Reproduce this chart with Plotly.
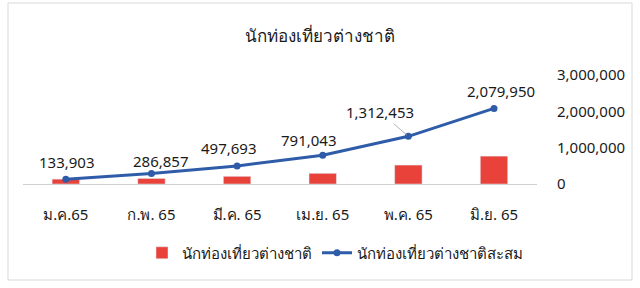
import plotly.graph_objects as go

months = ["ม.ค.65", "ก.พ. 65", "มี.ค. 65", "เม.ย. 65", "พ.ค. 65", "มิ.ย. 65"]
monthly = [133903, 152954, 210836, 293350, 521410, 767497]
cumulative = [133903, 286857, 497693, 791043, 1312453, 2079950]
y2_ticks = [0, 1000000, 2000000, 3000000]

bar_name = "นักท่องเที่ยวต่างชาติ"
line_name = "นักท่องเที่ยวต่างชาติสะสม"
title = "นักท่องเที่ยวต่างชาติ"

FONT = "Liberation Sans Narrow, Noto Sans, sans-serif"
RED = "#E8423A"
BLUE = "#2F5CA8"
TXT = "#1a1a1a"

# label offsets (px) for data labels
offsets = [(1, -17), (10, -13), (-8, -18), (-14, -15), (-28, -24), (7, -17)]

fig = go.Figure()
fig.add_trace(go.Bar(x=months, y=monthly, name=bar_name, marker_color=RED,
                     width=0.32, yaxis="y"))
fig.add_trace(go.Scatter(x=months, y=cumulative, name=line_name, mode="lines+markers",
                         line=dict(color=BLUE, width=3), marker=dict(size=7, color=BLUE),
                         yaxis="y2"))

annotations = []
for i, (m, v) in enumerate(zip(months, cumulative)):
    dx, dy = offsets[i]
    if i == 4:
        annotations.append(dict(x=m, y=v, xref="x", yref="y2", text=f"{v:,}",
                                showarrow=True, arrowhead=0, arrowwidth=0.8,
                                arrowcolor="#A0A0A0", ax=dx, ay=dy, standoff=2,
                                font=dict(family=FONT, size=15, color=TXT)))
    else:
        annotations.append(dict(x=m, y=v, xref="x", yref="y2", text=f"{v:,}",
                                showarrow=False, xshift=dx, yshift=-dy,
                                font=dict(family=FONT, size=15, color=TXT)))

L, R, T, B = 23, 103, 75, 104
W, H = 640, 288
pw, ph = W - L - R, H - T - B

annotations.append(dict(x=(320 - L) / pw, y=(H - B - 35) / ph, xref="paper", yref="paper",
                        xanchor="center", yanchor="middle", text=title, showarrow=False,
                        font=dict(family=FONT, size=17, color=TXT)))

fig.update_layout(
    width=W, height=H,
    margin=dict(l=L, r=R, t=T, b=B),
    paper_bgcolor="white", plot_bgcolor="white",
    showlegend=True,
    legend=dict(orientation="h", x=(335 - L) / pw, y=(H - B - 253) / ph,
                xanchor="center", yanchor="middle",
                font=dict(family=FONT, size=15, color=TXT),
                itemwidth=30, tracegroupgap=0),
    xaxis=dict(showline=True, linecolor="#D0D0D0", linewidth=1, showgrid=False,
               ticks="", tickfont=dict(family=FONT, size=15, color=TXT),
               ticklabelstandoff=17),
    yaxis=dict(range=[0, 3000000], visible=False, showgrid=False),
    yaxis2=dict(range=[0, 3000000], overlaying="y", side="right", showgrid=False,
                tickvals=y2_ticks, tickformat=",d", showline=False, zeroline=False,
                tickfont=dict(family=FONT, size=15, color=TXT),
                ticklabelstandoff=19),
    annotations=annotations,
    shapes=[dict(type="rect", xref="paper", yref="paper",
                 x0=(8 - L) / pw, x1=(632 - L) / pw,
                 y0=(H - B - 280) / ph, y1=(H - B - 3) / ph,
                 line=dict(color="#D9D9D9", width=1), fillcolor="rgba(0,0,0,0)",
                 layer="below")],
)

fig.write_html("out.html")
